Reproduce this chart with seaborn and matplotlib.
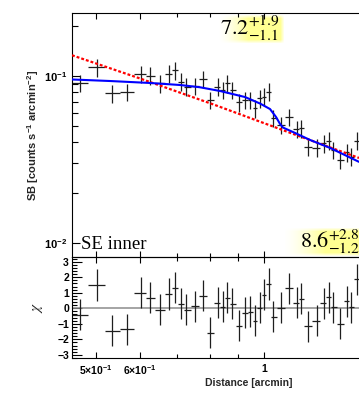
import numpy as np
import matplotlib
matplotlib.use("Agg")
import matplotlib.pyplot as plt
import seaborn as sns
from matplotlib.ticker import FixedLocator, FixedFormatter, NullFormatter

# --- data ---
dist = [0.4688, 0.5021, 0.5354, 0.5693, 0.6018, 0.6258, 0.6516, 0.6770, 0.6940, 0.7096,
        0.7261, 0.7525, 0.7769, 0.8014, 0.8272, 0.8434, 0.8596, 0.8766, 0.9022, 0.9258,
        0.9451, 0.9636, 0.9824, 1.0000, 1.0195, 1.0391, 1.0712, 1.1098, 1.1442, 1.1633,
        1.1973, 1.2437, 1.2804, 1.3054, 1.3305, 1.3677, 1.4093, 1.4294, 1.4651, 1.5130]
sb = [0.0905, 0.1127, 0.0787, 0.0800, 0.1028, 0.1004, 0.0904, 0.1032, 0.1082, 0.0925,
      0.0863, 0.0871, 0.0960, 0.0718, 0.0863, 0.0824, 0.0904, 0.0824, 0.0695, 0.0718,
      0.0718, 0.0640, 0.0735, 0.0752, 0.0805, 0.0562, 0.0509, 0.0570, 0.0480, 0.0486,
      0.0378, 0.0372, 0.0395, 0.0410, 0.0360, 0.0314, 0.0349, 0.0329, 0.0410, 0.0245]
chi = [-0.42, 1.50, -1.45, -1.35, 0.99, 0.67, -0.10, 0.92, 1.31, 0.28,
       -0.08, 0.13, 0.81, -1.58, 0.35, 0.09, 0.67, 0.28, -1.13, -0.30,
       -0.23, -0.79, 0.03, 0.86, 1.56, -0.53, 0.03, 1.28, 0.37, 0.60,
       -1.17, -0.81, 0.32, 0.71, 0.06, -1.00, 0.45, 0.06, 1.88, -1.90]
sb_rel_err = 0.12

# broken power-law fit (blue) and single power-law (red dashed)
fit_dist = [0.4533, 0.5302, 0.6253, 0.7077, 0.7679, 0.8342, 0.9247, 0.9837,
            1.0250, 1.0507, 1.0681, 1.0814, 1.1362, 1.2085, 1.3124, 1.4791]
fit_sb = [0.0953, 0.0933, 0.0908, 0.0883, 0.0856, 0.0813, 0.0748, 0.0684,
          0.0634, 0.0568, 0.0516, 0.0491, 0.0456, 0.0414, 0.0371, 0.0306]
pl_dist = [0.4533, 0.6000, 0.8172, 1.1131, 1.4791]
pl_sb = [0.1331, 0.0966, 0.0670, 0.0457, 0.0323]

jump_in = r"$7.2^{+1.9}_{-1.1}$"
jump_out = r"$8.6^{+2.8}_{-1.2}$"
region = "SE inner"

# --- style ---
sns.set_theme(style="ticks")
plt.rcParams.update({
    "font.family": ["Liberation Sans", "DejaVu Sans"],
    "mathtext.fontset": "custom",
    "mathtext.rm": "Liberation Sans:bold",
    "mathtext.bf": "Liberation Sans:bold",
    "mathtext.it": "Liberation Sans:bold:italic",
    "mathtext.sf": "Liberation Sans:bold",
    "axes.linewidth": 0.8,
    "axes.edgecolor": "black",
    "xtick.direction": "in",
    "ytick.direction": "in",
    "xtick.color": "black",
    "ytick.color": "black",
})

W, H = 359, 397
fig = plt.figure(figsize=(W / 100, H / 100), dpi=100, facecolor="white")

# yellow glow boxes behind the fitted jump values
def glow(w, h, ramp):
    xs = np.arange(w)[None, :]
    ys = np.arange(h)[:, None]
    a = np.clip(xs / ramp, 0, 1) ** 1.5
    a = a * np.clip((w - xs) / 4.0, 0, 1)
    a = a * np.clip(np.minimum(ys, h - 1 - ys) / 4.0, 0, 1)
    img = np.zeros((h, w, 4))
    img[..., 0] = 1.0
    img[..., 1] = 1.0
    img[..., 2] = 0.5
    img[..., 3] = a * 0.85
    return img

fig.figimage(glow(66, 30, 30), xo=218, yo=H - 44, origin="upper", zorder=-1)
fig.figimage(glow(120, 30, 42), xo=283, yo=H - 257, origin="upper", zorder=-1)

ax1 = fig.add_axes([72 / W, (H - 257) / H, 354 / W, 244 / H])
ax2 = fig.add_axes([72 / W, (H - 358) / H, 354 / W, 101 / H])
for ax in (ax1, ax2):
    ax.set_facecolor("none")
    ax.set_xscale("log")
    ax.set_xlim(0.4533, 1.949)

# --- upper panel: surface brightness ---
ax1.set_yscale("log")
ax1.set_ylim(0.008244, 0.2383)

d = np.array(dist)
edges = np.sqrt(d[1:] * d[:-1])
lo_edge = np.concatenate([[d[0] ** 2 / edges[0]], edges])
hi_edge = np.concatenate([edges, [d[-1] ** 2 / edges[-1]]])
xerr = [d - lo_edge, hi_edge - d]

s = np.array(sb)
ax1.errorbar(dist, sb, xerr=xerr, yerr=[s * sb_rel_err, s * sb_rel_err],
             fmt="none", ecolor="#1e1e1e", elinewidth=0.9, capsize=0, zorder=2)
sns.lineplot(x=pl_dist, y=pl_sb, ax=ax1, color="#ff0000", lw=1.6,
             linestyle=(0, (1.3, 0.9)), sort=False, estimator=None, zorder=3)
sns.lineplot(x=fit_dist, y=fit_sb, ax=ax1, color="#0000ff", lw=1.5,
             sort=False, estimator=None, zorder=4)

ax1.set_ylabel(r"SB [counts s$^{-1}$ arcmin$^{-2}$]", fontsize=8,
               fontweight="bold", va="center")
ax1.yaxis.set_label_coords((33 - 72) / 354, 0.5)
ax1.yaxis.set_major_locator(FixedLocator([0.01, 0.1]))
ax1.yaxis.set_major_formatter(FixedFormatter([r"$10^{-2}$", r"$10^{-1}$"]))
ax1.yaxis.set_minor_locator(FixedLocator([k * 0.01 for k in range(2, 10)] + [0.2]))
ax1.yaxis.set_minor_formatter(NullFormatter())
ax1.tick_params(axis="y", which="major", length=5.8, width=0.8, labelsize=8,
                pad=3.5, right=True)
ax1.tick_params(axis="y", which="minor", length=4.0, width=0.8, right=True)

# --- lower panel: residuals ---
ax2.set_ylim(-3.2, 3.3)
ax2.axhline(0, color="#8c8c8c", lw=1.1, zorder=1)
ax2.errorbar(dist, chi, xerr=xerr, yerr=1.0, fmt="none", ecolor="#1e1e1e",
             elinewidth=0.9, capsize=0, zorder=2)
ax2.set_ylabel(r"$\chi$", fontsize=11, math_fontfamily="stix", va="center")
ax2.yaxis.set_label_coords((37.7 - 72) / 354, 0.5)
ax2.yaxis.set_major_locator(FixedLocator([-3, -2, -1, 0, 1, 2, 3]))
ax2.yaxis.set_major_formatter(FixedFormatter(["\u22123", "\u22122", "\u22121", "0", "1", "2", "3"]))
ax2.yaxis.set_minor_locator(FixedLocator([v / 5 for v in range(-16, 17) if v % 5]))
ax2.tick_params(axis="y", which="major", length=7.0, width=0.8, labelsize=7.5,
                pad=2.2, right=True)
ax2.tick_params(axis="y", which="minor", length=3.6, width=0.8, right=True)
ax2.set_xlabel("Distance [arcmin]", fontsize=7.5, fontweight="bold", va="center")
ax2.xaxis.set_label_coords(0.5, -(383 - 358) / 101)

# shared x ticks
for ax in (ax1, ax2):
    ax.xaxis.set_major_locator(FixedLocator([0.5, 0.6, 1.0]))
    ax.xaxis.set_minor_locator(FixedLocator([0.7, 0.8, 0.9, 2.0]))
    ax.xaxis.set_minor_formatter(NullFormatter())
    ax.tick_params(axis="x", which="major", length=4.5, width=0.8, top=True)
    ax.tick_params(axis="x", which="minor", length=3.0, width=0.8, top=True)
ax1.xaxis.set_major_formatter(NullFormatter())
ax2.xaxis.set_major_formatter(FixedFormatter([r"$5{\times}10^{-1}$", r"$6{\times}10^{-1}$", "1"]))
ax2.tick_params(axis="x", which="major", labelsize=7.5, pad=4.0)

# bold tick labels (ROOT style), without making the serif math bold
plt.setp(ax2.get_xticklabels(), fontweight="bold")
plt.setp(ax2.get_yticklabels(), fontweight="bold")
plt.setp(ax1.get_yticklabels(), fontweight="bold")

# --- annotations ---
fig.text(220 / W, (H - 35) / H, jump_in, fontsize=16,
         math_fontfamily="stix", ha="left", va="baseline", color="black")
fig.text(300 / W, (H - 248) / H, jump_out, fontsize=16,
         math_fontfamily="stix", ha="left", va="baseline", color="black")
fig.text(81 / W, (H - 249) / H, region, fontsize=13.5, family="Liberation Serif",
         ha="left", va="baseline", color="black")

fig.savefig("out.png", dpi=100, facecolor="white")
